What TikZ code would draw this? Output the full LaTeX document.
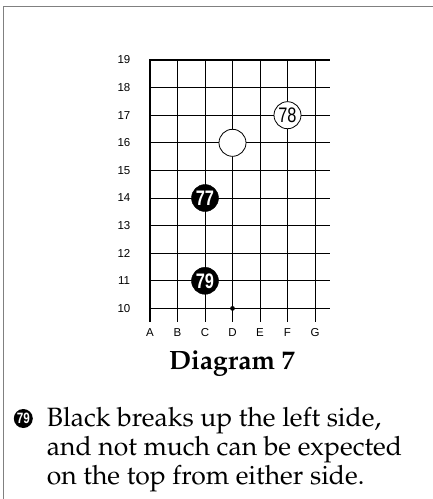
\documentclass[tikz,border=0pt]{standalone}
\usepackage[T1]{fontenc}
\usepackage{fontspec}
\setsansfont{Liberation Sans}
\newfontfamily\narrowsans[FakeStretch=0.78]{Liberation Sans}
\newfontfamily\narrowsansbold[FakeStretch=0.78]{Liberation Sans Bold}
\newcommand\palfont{\fontencoding{T1}\fontfamily{ppl}\selectfont}
\begin{document}
\begin{tikzpicture}[x=1pt,y=-1pt,
  coordlabel/.style={font=\fontsize{11.5}{12}\sffamily, inner sep=0pt},
  blackstone/.style={circle, fill=black, draw=black, minimum size=27pt, inner sep=0pt, text=white, font=\fontsize{21}{21}\narrowsansbold},
  whitestone/.style={circle, fill=white, draw=black, line width=0.8pt, minimum size=27pt, inner sep=0pt, text=black, font=\fontsize{21}{21}\narrowsans},
  gridline/.style={line width=0.9pt},
  edgeline/.style={line width=2pt},
  frameline/.style={draw=black!50, line width=1.6pt},
  bodytext/.style={font=\fontsize{26.5}{29}\palfont, anchor=base west, inner sep=0pt}
]
\useasboundingbox (0,0) rectangle (433,499);
% frame
\draw[frameline] (433,6.5) -- (3.5,6.5) -- (3.5,499);
% grid
\foreach \i in {0,...,6} {
  \pgfmathsetmacro\xx{150+27.5*\i}
  \draw[gridline] (\xx,60) -- (\xx,322);
}
\foreach \j in {0,...,9} {
  \pgfmathsetmacro\yy{60+27.6*\j}
  \draw[gridline] (150,\yy) -- (330,\yy);
}
\draw[edgeline] (150,322) -- (150,60) -- (330,60);
% row labels
\foreach \n [count=\j from 0] in {19,18,...,10} {
  \node[coordlabel] (r\n) at (124,{60+27.6*\j}) {\n};
}
% column labels
\foreach \c [count=\i from 0] in {A,B,C,D,E,F,G} {
  \node[coordlabel] (c\c) at ({150+27.5*\i},333) {\c};
}
% stones
\node[blackstone] (s77) at (205,198) {77};
\node[whitestone] (sw) at (232.5,142.8) {};
\node[whitestone] (s78) at (287.5,115.2) {78};
\node[blackstone] (s79) at (205,280.8) {79};
\fill (232.5,308.4) circle (2.4pt);
% caption
\node[font=\fontsize{26.5}{26.5}\palfont\bfseries, anchor=base, inner sep=0pt] (cap) at (232,369) {Diagram 7};
% text
\node[circle, fill=black, minimum size=19pt, inner sep=0pt, text=white, font=\fontsize{15}{15}\narrowsansbold] (m79) at (23.3,418.5) {79};
\node[bodytext] (t1) at (46.7,426.7) {Black breaks up the left side,};
\node[bodytext] (t2) at (46.7,455.5) {and not much can be expected};
\node[bodytext] (t3) at (46.7,484) {on the top from either side.};
\end{tikzpicture}
\end{document}
